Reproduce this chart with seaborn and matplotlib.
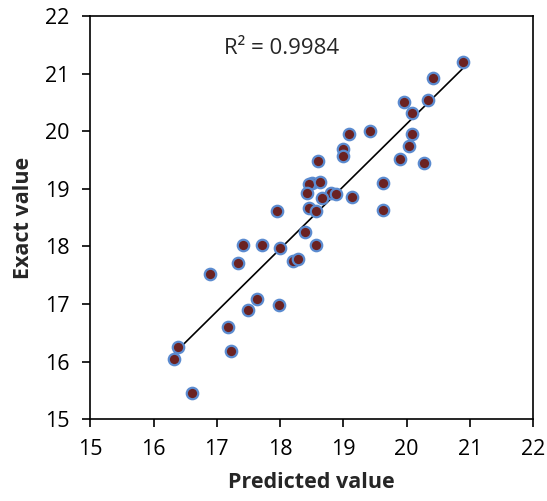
import matplotlib
matplotlib.use('Agg')
import matplotlib.pyplot as plt
import numpy as np
import pandas as pd
import seaborn as sns

# 读图估计的数据点
predicted = [20.89, 20.42, 19.95, 20.34, 20.08, 19.09, 19.42, 20.09, 19.00, 19.00,
             20.03, 19.90, 20.27, 18.60, 18.50, 18.46, 18.63, 19.62, 18.42, 18.80,
             18.89, 18.66, 19.14, 18.45, 18.57, 19.63, 17.95, 18.39, 18.56, 18.21,
             18.29, 17.98, 17.41, 17.71, 18.00, 17.34, 16.89, 17.63, 17.49, 17.18,
             16.39, 16.33, 17.23, 16.60]
exact = [21.21, 20.92, 20.50, 20.55, 20.32, 19.96, 20.00, 19.95, 19.70, 19.57,
         19.74, 19.51, 19.45, 19.48, 19.11, 19.09, 19.12, 19.11, 18.92, 18.93,
         18.91, 18.84, 18.86, 18.67, 18.61, 18.64, 18.62, 18.25, 18.02, 17.75,
         17.79, 16.98, 18.03, 18.03, 17.98, 17.72, 17.53, 17.09, 16.89, 16.60,
         16.26, 16.04, 16.18, 15.45]
r2_label = 'R² = 0.9984'
ticks = [15, 16, 17, 18, 19, 20, 21, 22]

df = pd.DataFrame({'pred': predicted, 'exact': exact})

sns.set_style('white')
plt.rcParams['font.family'] = ['Open Sans', 'DejaVu Sans']

fig = plt.figure(figsize=(5.47, 5.01), dpi=100)
ax = fig.add_axes([0.165, 0.163, 0.81, 0.805])

sns.regplot(data=df, x='pred', y='exact', ci=None, ax=ax,
            scatter_kws={'s': 68, 'color': '#6B2222', 'edgecolor': '#5B8BD0',
                         'linewidths': 1.6, 'alpha': 1, 'zorder': 3},
            line_kws={'color': 'black', 'linewidth': 1.2, 'zorder': 2})

ax.set_xlim(15, 22)
ax.set_ylim(15, 22)
ax.set_xticks(ticks)
ax.set_yticks(ticks)
ax.tick_params(axis='both', labelsize=15.5, direction='out', length=6, width=1.2,
               bottom=True, left=True, colors='black')
ax.tick_params(axis='x', pad=8)
ax.tick_params(axis='y', pad=9)
for s in ax.spines.values():
    s.set_color('black')
    s.set_linewidth(1.2)

ax.set_xlabel('Predicted value', fontsize=15.5, fontweight='bold', labelpad=9)
ax.set_ylabel('Exact value', fontsize=15.5, fontweight='bold', labelpad=8)
ax.text(18.03, 21.43, r2_label, fontsize=16, ha='center', va='center')

fig.savefig('out.png', dpi=100)
